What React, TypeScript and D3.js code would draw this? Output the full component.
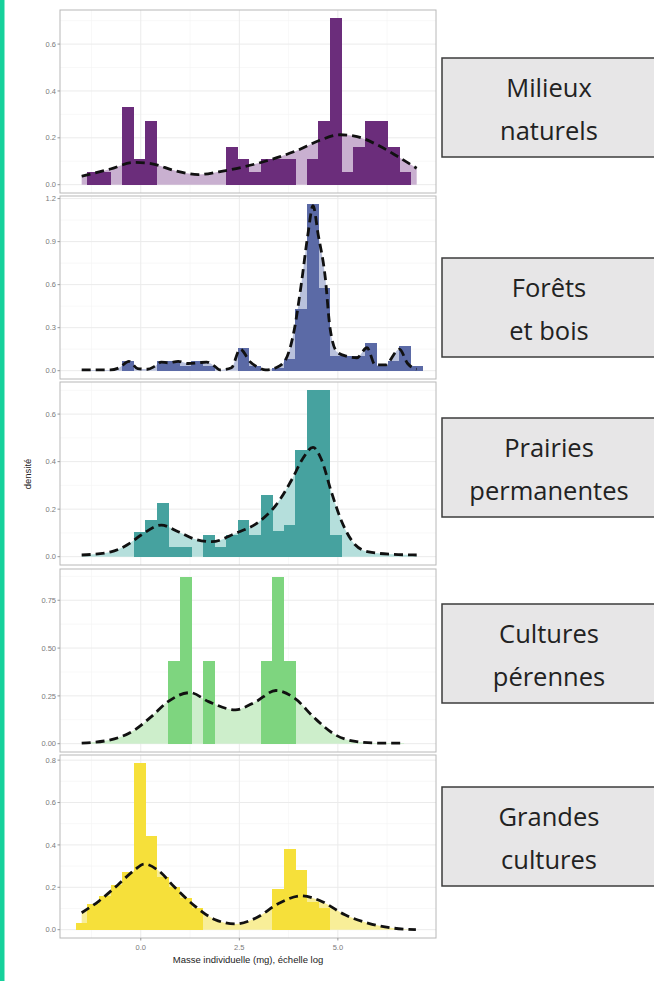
import React, { useRef, useEffect } from 'react';
import * as d3 from 'd3';

const W = 654;
const H = 981;

// log body mass range and histogram bins (ggplot style: 30 bins)
const xMin = -1.5;
const xMax = 7.0;
const nBins = 30;

const habitats = [
  ['Milieux', 'naturels'],
  ['Forêts', 'et bois'],
  ['Prairies', 'permanentes'],
  ['Cultures', 'pérennes'],
  ['Grandes', 'cultures'],
];

// histogram densities, one value per bin
const milieuxHist = [0, 0.055, 0.055, 0, 0.33, 0.11, 0.27, 0, 0, 0, 0, 0, 0, 0.16, 0.11, 0.055, 0.11, 0.11, 0.11, 0, 0.11, 0.27, 0.71, 0.055, 0.16, 0.27, 0.27, 0.16, 0.055, 0];
const foretsHist = [0, 0, 0, 0, 0.065, 0, 0, 0.065, 0.065, 0.03, 0.065, 0.03, 0, 0, 0.16, 0.035, 0, 0.02, 0.08, 0.43, 1.16, 0.58, 0.1, 0.1, 0.1, 0.19, 0.035, 0.07, 0.17, 0.03];
const prairiesHist = [0, 0, 0, 0, 0, 0.105, 0.155, 0.225, 0.04, 0.04, 0, 0.09, 0.04, 0.09, 0.155, 0.09, 0.26, 0.11, 0.135, 0.45, 0.7, 0.7, 0.09, 0, 0, 0, 0, 0, 0, 0];
const culturesPerHist = [0, 0, 0, 0, 0, 0, 0, 0, 0.435, 0.87, 0, 0.435, 0, 0, 0, 0, 0.435, 0.87, 0.435, 0, 0, 0, 0, 0, 0, 0, 0, 0, 0, 0];
const grandesHist = [0.03, 0.12, 0.16, 0.21, 0.27, 0.785, 0.44, 0.25, 0.2, 0.15, 0.1, 0, 0, 0, 0, 0, 0, 0.19, 0.38, 0.28, 0.13, 0.1, 0, 0, 0, 0, 0, 0, 0, 0];

// kernel density curves [log mass, density]
const milieuxDens = [[-1.5, 0.036], [-0.77, 0.067], [-0.17, 0.095], [0.26, 0.09], [0.86, 0.06], [1.46, 0.043], [1.98, 0.055], [2.58, 0.075], [3.26, 0.105], [3.95, 0.145], [4.55, 0.19], [5.06, 0.213], [5.49, 0.205], [6.0, 0.17], [6.52, 0.12], [7.0, 0.07]];
const foretsDens = [[-1.5, 0.005], [-1.1, 0.005], [-0.77, 0.005], [-0.55, 0.02], [-0.3, 0.065], [-0.08, 0.015], [0.17, 0.01], [0.35, 0.03], [0.52, 0.06], [0.7, 0.055], [0.95, 0.065], [1.2, 0.05], [1.46, 0.055], [1.67, 0.06], [1.88, 0.03], [2.01, 0.005], [2.3, 0.02], [2.52, 0.15], [2.78, 0.06], [3.0, 0.02], [3.17, 0.005], [3.43, 0.02], [3.68, 0.08], [3.89, 0.28], [4.07, 0.6], [4.24, 0.95], [4.37, 1.15], [4.5, 0.95], [4.68, 0.65], [4.8, 0.3], [4.98, 0.13], [5.23, 0.1], [5.48, 0.09], [5.74, 0.16], [5.95, 0.04], [6.2, 0.04], [6.56, 0.15], [6.77, 0.05], [7.0, 0.01]];
const prairiesDens = [[-1.5, 0.007], [-0.76, 0.02], [-0.34, 0.05], [0.0, 0.09], [0.52, 0.133], [0.95, 0.105], [1.38, 0.073], [1.8, 0.063], [2.4, 0.098], [3.0, 0.147], [3.43, 0.217], [3.85, 0.33], [4.1, 0.41], [4.37, 0.46], [4.58, 0.41], [4.84, 0.27], [5.1, 0.147], [5.44, 0.05], [5.78, 0.02], [6.38, 0.01], [7.0, 0.007]];
const culturesPerDens = [[-1.5, 0.003], [-0.77, 0.02], [-0.17, 0.07], [0.26, 0.14], [0.69, 0.22], [1.25, 0.267], [1.72, 0.22], [2.4, 0.177], [2.92, 0.22], [3.43, 0.278], [3.9, 0.238], [4.41, 0.134], [4.93, 0.047], [5.44, 0.012], [6.04, 0.003], [6.68, 0.003]];
const grandesDens = [[-1.5, 0.08], [-1.07, 0.134], [-0.59, 0.21], [-0.17, 0.28], [0.09, 0.31], [0.44, 0.28], [0.86, 0.2], [1.38, 0.11], [1.89, 0.047], [2.4, 0.027], [2.92, 0.055], [3.52, 0.126], [4.07, 0.16], [4.58, 0.134], [5.18, 0.07], [5.78, 0.03], [6.38, 0.008], [6.98, 0.0]];

const hists = [milieuxHist, foretsHist, prairiesHist, culturesPerHist, grandesHist];
const dens = [milieuxDens, foretsDens, prairiesDens, culturesPerDens, grandesDens];

const yTicks = [
  [0, 0.2, 0.4, 0.6],
  [0, 0.3, 0.6, 0.9, 1.2],
  [0, 0.2, 0.4, 0.6],
  [0, 0.25, 0.5, 0.75],
  [0, 0.2, 0.4, 0.6, 0.8],
];
const xTicks = [0, 2.5, 5.0];

const barColors = ['#6b2d7b', '#5b6aa6', '#46a29f', '#7ed57f', '#f6e03a'];
const areaColors = ['#c9b0d0', '#b9c1dc', '#b5dfdc', '#cdeecb', '#f8ee98'];

export default function App() {
  const svgRef = useRef(null);

  useEffect(() => {
    const svg = d3.select(svgRef.current);
    svg.selectAll('*').remove();

    const left = 60, right = 436;
    const panelTops = [10, 196, 382, 569, 755];
    const panelH = 183;
    const boxTops = [58, 258, 418, 604, 787];

    const binW = (xMax - xMin) / (nBins - 1);
    const binStart = xMin - binW / 2;

    const x = d3.scaleLinear().domain([-2.05, 7.49]).range([left, right]);
    const gridMajor = xTicks;
    const gridMinor = [-1.25, 1.25, 3.75, 6.25];

    // teal strip on the left edge
    svg.append('rect').attr('x', 0).attr('y', 0).attr('width', 4.5).attr('height', H).attr('fill', '#16d19b');

    hists.forEach((hist, p) => {
      const top = panelTops[p];
      const bottom = top + panelH;
      const maxV = Math.max(d3.max(hist), d3.max(dens[p], d => d[1]));
      const y = d3.scaleLinear().domain([-0.05 * maxV, 1.05 * maxV]).range([bottom, top]);
      const g = svg.append('g');

      g.append('rect').attr('x', left).attr('y', top).attr('width', right - left).attr('height', panelH).attr('fill', '#fff');

      // minor gridlines
      const ticks = yTicks[p];
      const step = ticks[1] - ticks[0];
      const yMinor = d3.range(-1, ticks.length).map(k => ticks[0] + (k + 0.5) * step).filter(v => v > y.domain()[0] && v < y.domain()[1]);
      yMinor.forEach(v => {
        g.append('line').attr('x1', left).attr('x2', right).attr('y1', y(v)).attr('y2', y(v)).attr('stroke', '#f3f3f3').attr('stroke-width', 0.6);
      });
      gridMinor.forEach(v => {
        g.append('line').attr('x1', x(v)).attr('x2', x(v)).attr('y1', top).attr('y2', bottom).attr('stroke', '#f3f3f3').attr('stroke-width', 0.6);
      });
      ticks.forEach(v => {
        g.append('line').attr('x1', left).attr('x2', right).attr('y1', y(v)).attr('y2', y(v)).attr('stroke', '#ebebeb').attr('stroke-width', 1);
      });
      gridMajor.forEach(v => {
        g.append('line').attr('x1', x(v)).attr('x2', x(v)).attr('y1', top).attr('y2', bottom).attr('stroke', '#ebebeb').attr('stroke-width', 1);
      });

      // density area
      const area = d3.area().x(d => x(d[0])).y0(y(0)).y1(d => y(d[1])).curve(d3.curveMonotoneX);
      g.append('path').datum(dens[p]).attr('d', area).attr('fill', areaColors[p]);

      // histogram bars
      hist.forEach((v, i) => {
        if (!v) return;
        const x0 = x(binStart + i * binW);
        const x1 = x(binStart + (i + 1) * binW);
        g.append('rect')
          .attr('x', x0).attr('width', x1 - x0 + 0.3)
          .attr('y', y(v)).attr('height', y(0) - y(v))
          .attr('fill', barColors[p])
          .attr('shape-rendering', 'crispEdges');
      });

      // dashed density line
      const line = d3.line().x(d => x(d[0])).y(d => y(d[1])).curve(d3.curveMonotoneX);
      g.append('path').datum(dens[p]).attr('d', line)
        .attr('fill', 'none').attr('stroke', '#111').attr('stroke-width', 2.8)
        .attr('stroke-dasharray', '9,5');

      // panel border
      g.append('rect').attr('x', left).attr('y', top).attr('width', right - left).attr('height', panelH)
        .attr('fill', 'none').attr('stroke', '#b8b8b8').attr('stroke-width', 1);

      // y axis
      const fmt = p === 3 ? d3.format('.2f') : d3.format('.1f');
      ticks.forEach(v => {
        g.append('line').attr('x1', left - 2.5).attr('x2', left).attr('y1', y(v)).attr('y2', y(v)).attr('stroke', '#999');
        g.append('text').attr('x', left - 4).attr('y', y(v)).attr('dy', '0.35em')
          .attr('text-anchor', 'end').style('font-family', 'Liberation Sans, Arial, sans-serif')
          .style('font-size', '7.5px').attr('fill', '#7a7a7a').text(fmt(v));
      });

      // x axis on the last panel only
      if (p === hists.length - 1) {
        xTicks.forEach(v => {
          g.append('line').attr('x1', x(v)).attr('x2', x(v)).attr('y1', bottom).attr('y2', bottom + 2.5).attr('stroke', '#999');
          g.append('text').attr('x', x(v)).attr('y', bottom + 11.5).attr('text-anchor', 'middle')
            .style('font-family', 'Liberation Sans, Arial, sans-serif').style('font-size', '7.5px')
            .attr('fill', '#7a7a7a').text(d3.format('.1f')(v));
        });
      }

      // habitat label box on the right
      const bt = boxTops[p];
      svg.append('rect').attr('x', 442).attr('y', bt).attr('width', 230).attr('height', 99)
        .attr('fill', '#e7e6e7').attr('stroke', '#3c3c3c').attr('stroke-width', 1.5);
      habitats[p].forEach((t, k) => {
        svg.append('text').attr('x', 549).attr('y', bt + 39 + k * 43).attr('text-anchor', 'middle')
          .style('font-family', 'Open Sans, sans-serif').style('font-size', '25.5px')
          .attr('fill', '#222').text(t);
      });
    });

    // axis titles
    svg.append('text').attr('x', (left + right) / 2).attr('y', 963).attr('text-anchor', 'middle')
      .style('font-family', 'Liberation Sans, Arial, sans-serif').style('font-size', '9.5px')
      .attr('fill', '#222').text('Masse individuelle (mg), échelle log');
    svg.append('text').attr('transform', 'translate(31,474) rotate(-90)').attr('text-anchor', 'middle')
      .style('font-family', 'Liberation Sans, Arial, sans-serif').style('font-size', '9.5px')
      .attr('fill', '#222').text('densité');
  }, []);

  return (
    <svg ref={svgRef} width={W} height={H} style={{ position: 'absolute', left: 0, top: 0, background: '#fff' }}></svg>
  );
}
